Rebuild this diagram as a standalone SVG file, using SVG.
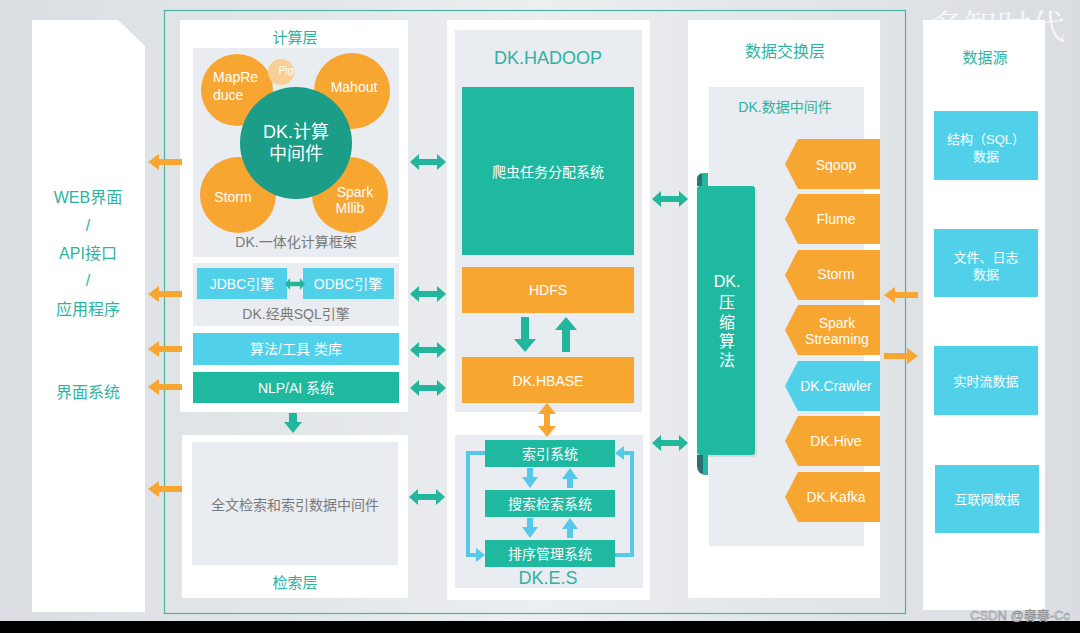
<svg xmlns="http://www.w3.org/2000/svg" width="1080" height="633" viewBox="0 0 1080 633">
<defs>
<linearGradient id="bg" x1="0" y1="0" x2="1" y2="0">
<stop offset="0" stop-color="#dadee2"/><stop offset="0.5" stop-color="#eceef0"/><stop offset="1" stop-color="#d9dde1"/>
</linearGradient>
<path id="dbl" d="M-18,0 L-9,-8 L-9,-3 L9,-3 L9,-8 L18,0 L9,8 L9,3 L-9,3 L-9,8 Z"/>
<path id="left" d="M0,0 L11,-8 L11,-3 L34,-3 L34,3 L11,3 L11,8 Z"/>
<path id="pent" d="M13,0 L95,0 L95,50 L13,50 L0,25 Z"/>
</defs>
<style>
text{font-family:"Liberation Sans","Noto Sans CJK SC",sans-serif;text-anchor:middle}
.panel{fill:#ffffff}
.gray{fill:#e9ecf0}
.teal{fill:#1fb9a0}
.orange{fill:#f6a631}
.cyan{fill:#51d0ea}
.ttl{fill:#2eb3a0;font-size:16px}
.wt{fill:#ffffff;font-size:14px}
.gt{fill:#7a7a7a;font-size:14px}
.tarrow{fill:#22b69c}
.oarrow{fill:#f6a631}
.carrow{fill:#55c9ea}
</style>
<rect x="0" y="0" width="1080" height="633" fill="url(#bg)"/>
<rect x="0" y="621" width="1080" height="12" fill="#000"/>

<g id="frame"><rect x="164.5" y="10.5" width="741" height="603" fill="none" stroke="#4db3a5" stroke-width="1.2"/></g>

<g id="ui-panel">
<path class="panel" d="M32,20 L118,20 L145,46 L145,612 L32,612 Z"/>
<text class="ttl" x="88" y="203">WEB界面</text>
<text class="ttl" x="88" y="231">/</text>
<text class="ttl" x="88" y="259">API接口</text>
<text class="ttl" x="88" y="286">/</text>
<text class="ttl" x="88" y="315">应用程序</text>
<text class="ttl" x="88" y="398">界面系统</text>
</g>

<g id="compute-layer">
<rect class="panel" x="180" y="20" width="228" height="392"/>
<text class="ttl" x="295" y="43" style="font-size:15px">计算层</text>
<rect class="gray" x="193" y="48" width="206" height="209"/>
<circle cx="352" cy="91" r="38" class="orange"/>
<circle cx="238" cy="195" r="38" class="orange"/>
<circle cx="350" cy="195" r="38" class="orange"/>
<circle cx="237" cy="90" r="36" class="orange"/>
<circle cx="281" cy="72" r="13" fill="#f9cf98"/>
<text x="286" y="74" style="fill:#fff;font-size:10px">Pig</text>
<circle cx="296" cy="143" r="56" fill="#1b9d88"/>
<text class="wt" x="213" y="82" style="text-anchor:start">MapRe</text>
<text class="wt" x="213" y="100" style="text-anchor:start">duce</text>
<text class="wt" x="354" y="92">Mahout</text>
<text class="wt" x="233" y="202">Storm</text>
<text class="wt" x="355" y="197">Spark</text>
<text class="wt" x="350" y="213">Mllib</text>
<text x="296" y="138" style="fill:#fff;font-size:18px">DK.计算</text>
<text x="296" y="160" style="fill:#fff;font-size:18px">中间件</text>
<text class="gt" x="296" y="247">DK.一体化计算框架</text>
<rect class="gray" x="193" y="263" width="206" height="63"/>
<rect class="cyan" x="197" y="268" width="90" height="31"/>
<rect class="cyan" x="303" y="268" width="91" height="31"/>
<text class="wt" x="242" y="289">JDBC引擎</text>
<text class="wt" x="348" y="289">ODBC引擎</text>
<use href="#dbl" transform="translate(295,284) scale(0.55,0.75)" class="tarrow"/>
<text class="gt" x="296" y="319">DK.经典SQL引擎</text>
<rect class="cyan" x="193" y="333" width="206" height="32"/>
<text class="wt" x="296" y="354">算法/工具 类库</text>
<rect class="teal" x="193" y="372" width="206" height="31"/>
<text class="wt" x="296" y="393">NLP/AI  系统</text>
</g>

<g id="search-layer">
<rect class="panel" x="182" y="435" width="226" height="163"/>
<rect class="gray" x="192" y="442" width="206" height="123"/>
<text class="gt" x="295" y="510">全文检索和索引数据中间件</text>
<text class="ttl" x="295" y="588" style="font-size:15px">检索层</text>
</g>

<g id="hadoop">
<rect class="panel" x="447" y="20" width="203" height="580"/>
<rect class="gray" x="455" y="30" width="187" height="382"/>
<text x="548" y="64" style="fill:#2eb3a0;font-size:18px">DK.HADOOP</text>
<rect class="teal" x="462" y="87" width="172" height="168"/>
<text class="wt" x="548" y="177">爬虫任务分配系统</text>
<rect class="orange" x="462" y="267" width="172" height="46"/>
<text class="wt" x="548" y="295">HDFS</text>
<rect class="orange" x="462" y="357" width="172" height="46"/>
<text class="wt" x="548" y="386">DK.HBASE</text>
</g>

<g id="es">
<rect class="gray" x="455" y="435" width="188" height="153"/>
<rect class="teal" x="485" y="440" width="130" height="27"/>
<text class="wt" x="550" y="459">索引系统</text>
<rect class="teal" x="485" y="490" width="130" height="27"/>
<text class="wt" x="550" y="509">搜索检索系统</text>
<rect class="teal" x="485" y="540" width="130" height="27"/>
<text class="wt" x="550" y="559">排序管理系统</text>
<text x="548" y="584" style="fill:#2eb3a0;font-size:18px">DK.E.S</text>
</g>

<g id="exchange">
<rect class="panel" x="688" y="20" width="192" height="578"/>
<text class="ttl" x="785" y="57">数据交换层</text>
<rect class="gray" x="709" y="87" width="155" height="459"/>
<text x="785" y="112" style="fill:#2eb3a0;font-size:14px">DK.数据中间件</text>
<rect x="699" y="188" width="58" height="269" rx="3" fill="#c9d0d4" opacity="0.6"/>
<path class="teal" d="M697,186 L697,180 Q697,173 704,173 L708,173 L708,186 Z"/>
<path d="M697,186 L697,180 Q697,174 702,173.5 L702,186 Z" fill="#2a7479"/>
<rect class="teal" x="697" y="186" width="58" height="269" rx="3"/>
<path d="M697,455 L708,455 L708,475 Q697,475 697,466 Z" fill="#2b6f75"/>
<path d="M703,455 L708,455 L708,475 L703,474 Z" fill="#1fb9a0"/>
<text x="727" y="287" style="fill:#fff;font-size:16px">DK.</text>
<text x="727" y="308" style="fill:#fff;font-size:16px">压</text>
<text x="727" y="328" style="fill:#fff;font-size:16px">缩</text>
<text x="727" y="347" style="fill:#fff;font-size:16px">算</text>
<text x="727" y="366" style="fill:#fff;font-size:16px">法</text>
<use href="#pent" class="orange" x="785" y="139"/>
<use href="#pent" class="orange" x="785" y="194"/>
<use href="#pent" class="orange" x="785" y="250"/>
<use href="#pent" class="orange" x="785" y="305"/>
<use href="#pent" class="cyan" x="785" y="361"/>
<use href="#pent" class="orange" x="785" y="416"/>
<use href="#pent" class="orange" x="785" y="472"/>
<text class="wt" x="836" y="170">Sqoop</text>
<text class="wt" x="836" y="224">Flume</text>
<text class="wt" x="836" y="279">Storm</text>
<text class="wt" x="837" y="328">Spark</text>
<text class="wt" x="837" y="344">Streaming</text>
<text class="wt" x="836" y="391">DK.Crawler</text>
<text class="wt" x="836" y="446">DK.Hive</text>
<text class="wt" x="836" y="502">DK.Kafka</text>
</g>

<g id="datasource">
<rect class="panel" x="923" y="20" width="122" height="590"/>
<text x="985" y="63" style="fill:#2eb3a0;font-size:15px">数据源</text>
<rect class="cyan" x="934" y="111" width="104" height="69"/>
<text x="986" y="144" style="fill:#fff;font-size:13px">结构（SQL）</text>
<text x="986" y="161" style="fill:#fff;font-size:13px">数据</text>
<rect class="cyan" x="934" y="229" width="104" height="68"/>
<text x="986" y="262" style="fill:#fff;font-size:13px">文件、日志</text>
<text x="986" y="279" style="fill:#fff;font-size:13px">数据</text>
<rect class="cyan" x="934" y="346" width="104" height="69"/>
<text x="986" y="386" style="fill:#fff;font-size:13px">实时流数据</text>
<rect class="cyan" x="935" y="465" width="104" height="68"/>
<text x="987" y="504" style="fill:#fff;font-size:13px">互联网数据</text>
</g>

<g id="connectors">
<use href="#left" class="oarrow" x="148" y="162"/>
<use href="#left" class="oarrow" x="148" y="294"/>
<use href="#left" class="oarrow" x="148" y="349"/>
<use href="#left" class="oarrow" x="148" y="387"/>
<use href="#left" class="oarrow" x="148" y="489"/>
<use href="#dbl" class="tarrow" x="428" y="162"/>
<use href="#dbl" class="tarrow" x="428" y="294"/>
<use href="#dbl" class="tarrow" x="428" y="350"/>
<use href="#dbl" class="tarrow" x="428" y="388"/>
<use href="#dbl" class="tarrow" x="427" y="497"/>
<use href="#dbl" class="tarrow" x="670" y="199"/>
<use href="#dbl" class="tarrow" x="670" y="443"/>
<use href="#left" class="oarrow" x="884" y="295"/>
<path class="oarrow" d="M918,356 L907,348 L907,353 L884,353 L884,359 L907,359 L907,364 Z"/>
<path class="tarrow" d="M289,413 L297,413 L297,422 L302,422 L293,433 L284,422 L289,422 Z"/>
<path class="tarrow" d="M521,317 L529,317 L529,339 L536,339 L525,352 L514,339 L521,339 Z"/>
<path class="tarrow" d="M562,352 L570,352 L570,330 L577,330 L566,317 L555,330 L562,330 Z"/>
<path class="oarrow" d="M547,403 L556,414 L550,414 L550,426 L556,426 L547,437 L538,426 L544,426 L544,414 L538,414 Z"/>
<path class="carrow" d="M527,468 L533,468 L533,477 L538,477 L530,488 L522,477 L527,477 Z"/>
<path class="carrow" d="M567,488 L573,488 L573,479 L578,479 L570,468 L562,479 L567,479 Z"/>
<path class="carrow" d="M527,518 L533,518 L533,527 L538,527 L530,538 L522,527 L527,527 Z"/>
<path class="carrow" d="M567,538 L573,538 L573,529 L578,529 L570,518 L562,529 L567,529 Z"/>
<path d="M485,453 L468,453 L468,555 L478,555" fill="none" stroke="#55c9ea" stroke-width="4"/>
<path class="carrow" d="M485,555 L476,548 L476,562 Z"/>
<path d="M615,555 L632,555 L632,453 L622,453" fill="none" stroke="#55c9ea" stroke-width="4"/>
<path class="carrow" d="M615,453 L624,446 L624,460 Z"/>
</g>

<text x="997" y="39" style="font-family:'Liberation Serif','Noto Serif CJK SC','Noto Sans CJK SC',serif;font-size:34px;fill:#ffffff;fill-opacity:0.75">多智时代</text>
<text x="1020" y="620" style="font-size:13px;fill:#eeeeee;stroke:#7d8083;stroke-width:0.5">CSDN @春春-Cc</text>
</svg>
